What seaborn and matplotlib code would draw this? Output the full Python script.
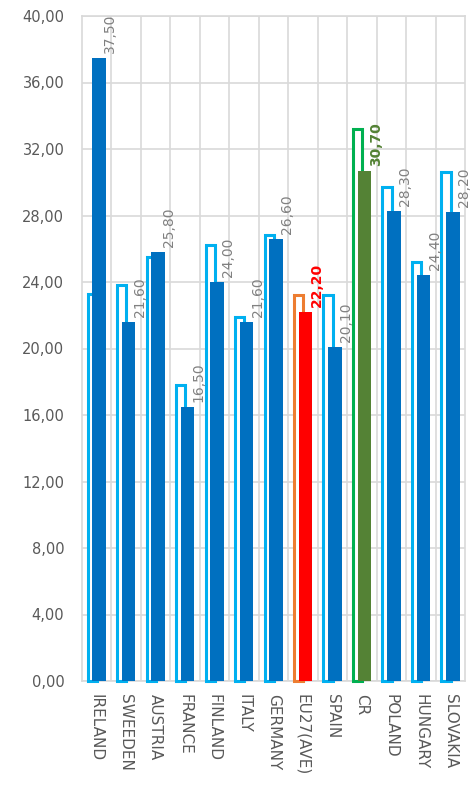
import numpy as np
import pandas as pd
import matplotlib
matplotlib.use("Agg")
import matplotlib.pyplot as plt
import seaborn as sns

categories = ["IRELAND", "SWEEDEN", "AUSTRIA", "FRANCE", "FINLAND", "ITALY", "GERMANY",
              "EU27(AVE)", "SPAIN", "CR", "POLAND", "HUNGARY", "SLOVAKIA"]
outline_values = [23.3, 23.8, 25.5, 17.8, 26.2, 21.9, 26.8, 23.2, 23.2, 33.2, 29.7, 25.2, 30.6]
filled_values = [37.5, 21.6, 25.8, 16.5, 24.0, 21.6, 26.6, 22.2, 20.1, 30.7, 28.3, 24.4, 28.2]
y_ticks = [0, 4, 8, 12, 16, 20, 24, 28, 32, 36, 40]

outline_colors = ["#00B0F0"] * 7 + ["#ED7D31", "#00B0F0", "#00B050"] + ["#00B0F0"] * 3
fill_colors = ["#0070C0"] * 7 + ["#FF0000", "#0070C0", "#548235"] + ["#0070C0"] * 3
label_colors = ["#808080"] * 7 + ["#FF0000", "#808080", "#548235"] + ["#808080"] * 3
label_bold = [False] * 7 + [True, False, True] + [False] * 3

sns.set_theme(style="white")
plt.rcParams["font.family"] = ["DejaVu Sans"]

W, H = 473, 791
fig = plt.figure(figsize=(W / 100, H / 100), dpi=100)
left, right, top, bottom = 81.7, 465.0, 16.0, 681.0
ax = fig.add_axes([left / W, 1 - bottom / H, (right - left) / W, (bottom - top) / H])

df = pd.DataFrame({"cat": categories, "outline": outline_values, "filled": filled_values})

# outline (hollow) bars
sns.barplot(data=df, x="cat", y="outline", hue="cat",
            palette=dict(zip(categories, outline_colors)), saturation=1,
            width=0.31, legend=False, ax=ax, order=categories, hue_order=categories)
outline_patches = sorted(ax.patches, key=lambda p: p.get_x())
for p, c in zip(outline_patches, outline_colors):
    p.set_facecolor("white")
    p.set_edgecolor(c)
    p.set_linewidth(2.2)
    p.set_x(p.get_x() - 0.145)
    p.set_clip_on(False)
    p.set_zorder(2)

# filled bars
n_before = len(ax.patches)
sns.barplot(data=df, x="cat", y="filled", hue="cat",
            palette=dict(zip(categories, fill_colors)), saturation=1,
            width=0.45, legend=False, ax=ax, order=categories, hue_order=categories)
filled_patches = sorted(ax.patches[n_before:], key=lambda p: p.get_x())
for p in filled_patches:
    p.set_x(p.get_x() + 0.09)
    p.set_linewidth(0)
    p.set_zorder(3)

# data labels
for i, (v, c, b) in enumerate(zip(filled_values, label_colors, label_bold)):
    ax.annotate(f"{v:.2f}".replace(".", ","), xy=(i + 0.47, v), xytext=(0, 3.5),
                textcoords="offset points", rotation=90, ha="center", va="bottom",
                color=c, fontsize=10, fontweight="bold" if b else "normal", zorder=4)

ax.set_xlim(-0.5, len(categories) - 0.5)
ax.set_ylim(0, 40)
ax.set_yticks(y_ticks)
ax.set_yticklabels([f"{t:.2f}".replace(".", ",") for t in y_ticks], fontsize=10.5, color="#595959")
ax.set_xticks(range(len(categories)))
ax.set_xticklabels(categories, rotation=-90, fontsize=11, color="#595959", ha="center", va="top")
ax.set_xticks([i + 0.5 for i in range(len(categories) - 1)], minor=True)
ax.tick_params(axis="y", length=0, pad=12.5)
ax.tick_params(axis="x", which="both", length=0, pad=9)
ax.set_xlabel("")
ax.set_ylabel("")

ax.set_axisbelow(True)
ax.grid(axis="y", which="major", color="#D9D9D9", linewidth=1.2)
ax.grid(axis="x", which="minor", color="#D9D9D9", linewidth=1.2)
ax.grid(axis="x", which="major", visible=False)
for s in ax.spines.values():
    s.set_color("#D9D9D9")
    s.set_linewidth(1.2)
    s.set_zorder(0.5)

fig.savefig("out.png", dpi=100, facecolor="white")
